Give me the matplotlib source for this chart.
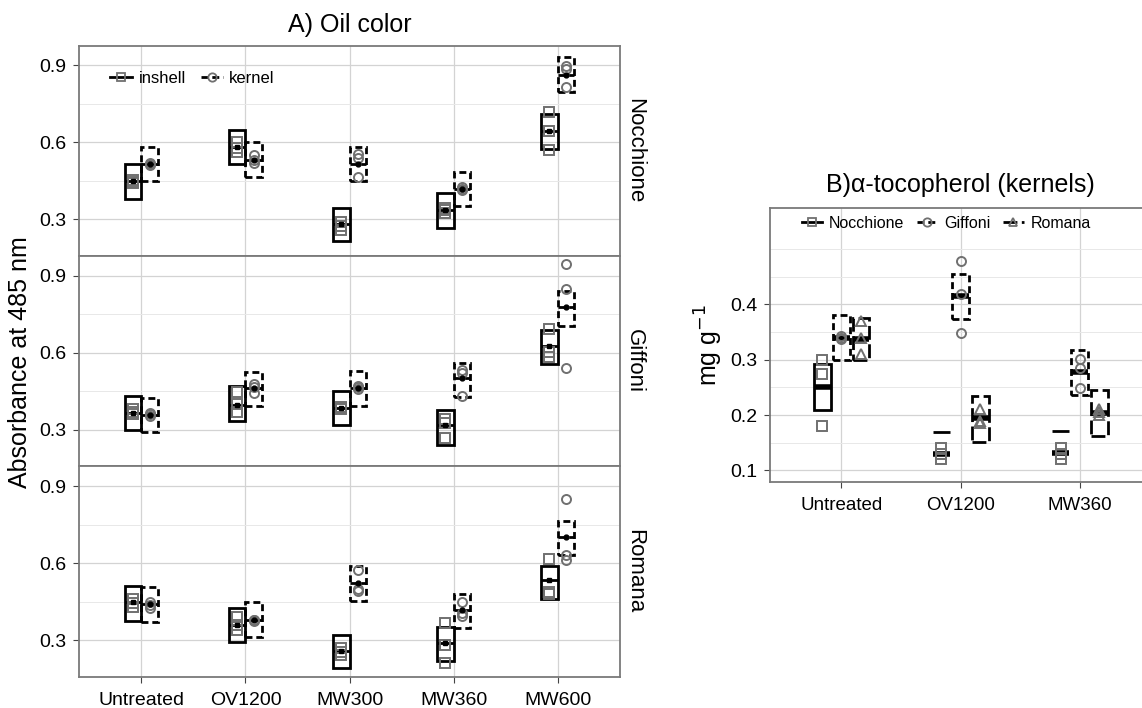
import matplotlib
matplotlib.use("Agg")
import matplotlib.pyplot as plt
from matplotlib.patches import Rectangle
from matplotlib.lines import Line2D

plt.rcParams['font.family'] = ['Liberation Sans', 'DejaVu Sans']

# ---- panel A data: oil colour (absorbance at 485 nm) ----
treatments_a = ["Untreated", "OV1200", "MW300", "MW360", "MW600"]
cultivars = ["Nocchione", "Giffoni", "Romana"]

noc_inshell_mean = [0.448, 0.582, 0.280, 0.337, 0.644]
noc_inshell_low = [0.379, 0.514, 0.214, 0.266, 0.575]
noc_inshell_high = [0.514, 0.647, 0.345, 0.402, 0.710]
noc_inshell_pts = [[0.44, 0.445, 0.455], [0.60, 0.58, 0.562], [0.29, 0.275, 0.26],
                   [0.345, 0.335, 0.325], [0.72, 0.644, 0.57]]
noc_kernel_mean = [0.517, 0.533, 0.515, 0.419, 0.863]
noc_kernel_low = [0.448, 0.467, 0.449, 0.351, 0.795]
noc_kernel_high = [0.584, 0.601, 0.584, 0.484, 0.933]
noc_kernel_pts = [[0.51, 0.515, 0.52], [0.55, 0.53, 0.52], [0.556, 0.54, 0.465],
                  [0.42, 0.415, 0.425], [0.899, 0.885, 0.818]]

gif_inshell_mean = [0.366, 0.397, 0.384, 0.317, 0.628]
gif_inshell_low = [0.300, 0.335, 0.317, 0.242, 0.557]
gif_inshell_high = [0.431, 0.470, 0.453, 0.376, 0.690]
gif_inshell_pts = [[0.38, 0.37, 0.36], [0.446, 0.40, 0.369], [0.385, 0.39, 0.38],
                   [0.343, 0.325, 0.269], [0.694, 0.605, 0.585]]
gif_kernel_mean = [0.358, 0.464, 0.462, 0.500, 0.780]
gif_kernel_low = [0.291, 0.392, 0.392, 0.426, 0.706]
gif_kernel_high = [0.425, 0.527, 0.528, 0.562, 0.841]
gif_kernel_pts = [[0.36, 0.355, 0.365], [0.48, 0.465, 0.445], [0.47, 0.465, 0.46],
                  [0.533, 0.52, 0.431], [0.946, 0.85, 0.54]]

rom_inshell_mean = [0.447, 0.360, 0.258, 0.287, 0.535]
rom_inshell_low = [0.375, 0.291, 0.190, 0.218, 0.459]
rom_inshell_high = [0.509, 0.425, 0.321, 0.352, 0.590]
rom_inshell_pts = [[0.46, 0.445, 0.43], [0.39, 0.36, 0.34], [0.27, 0.255, 0.24],
                   [0.368, 0.28, 0.211], [0.616, 0.489, 0.48]]
rom_kernel_mean = [0.440, 0.378, 0.521, 0.417, 0.702]
rom_kernel_low = [0.369, 0.310, 0.453, 0.346, 0.630]
rom_kernel_high = [0.505, 0.447, 0.589, 0.479, 0.763]
rom_kernel_pts = [[0.45, 0.435, 0.425], [0.38, 0.375, 0.38], [0.573, 0.50, 0.49],
                  [0.45, 0.405, 0.395], [0.85, 0.633, 0.613]]

# ---- panel B data: alpha-tocopherol in kernels (mg/g) ----
treatments_b = ["Untreated", "OV1200", "MW360"]
toc_noc_mean = [0.250, 0.130, 0.132]
toc_noc_low = [0.209, 0.170, 0.172]
toc_noc_high = [0.293, 0.170, 0.172]
toc_noc_pts = [[0.30, 0.275, 0.18], [0.14, 0.13, 0.12], [0.14, 0.13, 0.12]]
toc_gif_mean = [0.340, 0.415, 0.278]
toc_gif_low = [0.299, 0.373, 0.237]
toc_gif_high = [0.380, 0.455, 0.318]
toc_gif_pts = [[0.337, 0.34, 0.343], [0.479, 0.418, 0.348], [0.302, 0.285, 0.248]]
toc_rom_mean = [0.337, 0.195, 0.204]
toc_rom_low = [0.300, 0.152, 0.163]
toc_rom_high = [0.375, 0.235, 0.245]
toc_rom_pts = [[0.37, 0.34, 0.31], [0.21, 0.19, 0.185], [0.21, 0.20, 0.205]]

DASH = (0, (2.5, 1.4))
LONGDASH = (0, (5, 1.6))
PT_COL = '#707070'
FRAME = '#7a7a7a'


def draw_group(ax, xc, lo, mid, hi, pts, w, ls, marker, thick_mean=False):
    ax.add_patch(Rectangle((xc - w / 2, lo), w, hi - lo, fill=False, ec='black',
                           lw=2, ls=ls, zorder=3))
    ax.plot([xc - w / 2, xc + w / 2], [mid, mid], color='black',
            lw=4 if thick_mean else 2, ls='-' if thick_mean else ls,
            solid_capstyle='butt', zorder=3)
    ax.plot([xc] * len(pts), pts, ls='none', marker=marker, mfc='none',
            mec=PT_COL, ms=6.5, mew=1.4, zorder=4)
    if not thick_mean:
        ax.plot([xc], [mid], marker=marker, color='black', ms=3.5, zorder=5)


def style_axes(ax):
    for s in ax.spines.values():
        s.set_color(FRAME)
        s.set_linewidth(1.3)
    ax.grid(which='major', color='#d3d3d3', lw=0.9, zorder=0)
    ax.grid(which='minor', color='#e8e8e8', lw=0.7, zorder=0)
    ax.set_axisbelow(True)
    ax.tick_params(which='major', length=4, color='#444444', labelsize=14, pad=5)
    ax.tick_params(which='minor', length=0)


fig = plt.figure(figsize=(11.42, 7.08), dpi=100)

# ---- Panel A ----
a_groups = [
    (noc_inshell_low, noc_inshell_mean, noc_inshell_high, noc_inshell_pts,
     noc_kernel_low, noc_kernel_mean, noc_kernel_high, noc_kernel_pts),
    (gif_inshell_low, gif_inshell_mean, gif_inshell_high, gif_inshell_pts,
     gif_kernel_low, gif_kernel_mean, gif_kernel_high, gif_kernel_pts),
    (rom_inshell_low, rom_inshell_mean, rom_inshell_high, rom_inshell_pts,
     rom_kernel_low, rom_kernel_mean, rom_kernel_high, rom_kernel_pts),
]
bottoms = [0.6384, 0.3412, 0.0442]
for k, (name, grp, b) in enumerate(zip(cultivars, a_groups, bottoms)):
    ax = fig.add_axes([0.0692, b, 0.4737, 0.297])
    il, im, ih, ip, kl, km, kh, kp = grp
    for i in range(len(treatments_a)):
        draw_group(ax, i - 0.08, il[i], im[i], ih[i], ip[i], 0.16, '-', 's')
        draw_group(ax, i + 0.08, kl[i], km[i], kh[i], kp[i], 0.16, DASH, 'o')
    ax.set_xlim(-0.6, 4.6)
    ax.set_ylim(0.157, 0.977)
    ax.set_yticks([0.3, 0.6, 0.9])
    ax.set_yticks([0.45, 0.75], minor=True)
    ax.set_xticks(range(len(treatments_a)))
    style_axes(ax)
    if k < 2:
        ax.tick_params(axis='x', which='major', length=0, labelbottom=False)
    else:
        ax.set_xticklabels(treatments_a)
        ax.tick_params(axis='x', pad=7)
    ax.text(1.008, 0.5, name, rotation=-90, transform=ax.transAxes,
            ha='left', va='center', fontsize=16)
    if k == 0:
        handles = [
            Line2D([], [], color='black', lw=2, marker='s', mfc='none', mec=PT_COL, ms=6, mew=1.3),
            Line2D([], [], color='black', lw=2, ls=DASH, marker='o', mfc='none', mec=PT_COL, ms=6, mew=1.3),
        ]
        ax.legend(handles, ["inshell", "kernel"], loc='center', bbox_to_anchor=(0.21, 0.846),
                  ncol=2, frameon=False, fontsize=12, handlelength=1.3,
                  handletextpad=0.4, columnspacing=0.9)

fig.text(0.3065, 0.9647, "A) Oil color", ha='center', va='center', fontsize=18)
fig.text(0.0175, 0.489, "Absorbance at 485 nm", rotation=90, ha='center', va='center', fontsize=18)

# ---- Panel B ----
axb = fig.add_axes([0.6743, 0.3192, 0.3336, 0.387])
b_series = [
    (toc_noc_low, toc_noc_mean, toc_noc_high, toc_noc_pts, -0.16, '-', 's'),
    (toc_gif_low, toc_gif_mean, toc_gif_high, toc_gif_pts, 0.0, DASH, 'o'),
    (toc_rom_low, toc_rom_mean, toc_rom_high, toc_rom_pts, 0.165, LONGDASH, '^'),
]
for lo, mid, hi, pts, off, ls, mk in b_series:
    for i in range(len(treatments_b)):
        draw_group(axb, i + off, lo[i], mid[i], hi[i], pts[i], 0.14, ls, mk, thick_mean=True)
axb.set_xlim(-0.6, 2.6)
axb.set_ylim(0.079, 0.574)
axb.set_yticks([0.1, 0.2, 0.3, 0.4])
axb.set_yticks([0.15, 0.25, 0.35, 0.45, 0.5], minor=True)
axb.set_xticks(range(len(treatments_b)))
axb.set_xticklabels(treatments_b)
style_axes(axb)
axb.tick_params(axis='x', labelsize=13.5, pad=7)
axb.set_ylabel("mg g$^{-1}$", fontsize=18, labelpad=4)
b_handles = [
    Line2D([], [], color='black', lw=2, marker='s', mfc='none', mec=PT_COL, ms=6, mew=1.3),
    Line2D([], [], color='black', lw=2, ls=DASH, marker='o', mfc='none', mec=PT_COL, ms=6, mew=1.3),
    Line2D([], [], color='black', lw=2, ls=LONGDASH, marker='^', mfc='none', mec=PT_COL, ms=6, mew=1.3),
]
axb.legend(b_handles, cultivars, loc='center', bbox_to_anchor=(0.462, 0.945), ncol=3,
           frameon=False, fontsize=11.5, handlelength=1.3, handletextpad=0.4,
           columnspacing=0.8)
fig.text(0.8406, 0.7387, "B)\u03b1-tocopherol (kernels)", ha='center', va='center', fontsize=18)

fig.savefig("out.png", dpi=100)
